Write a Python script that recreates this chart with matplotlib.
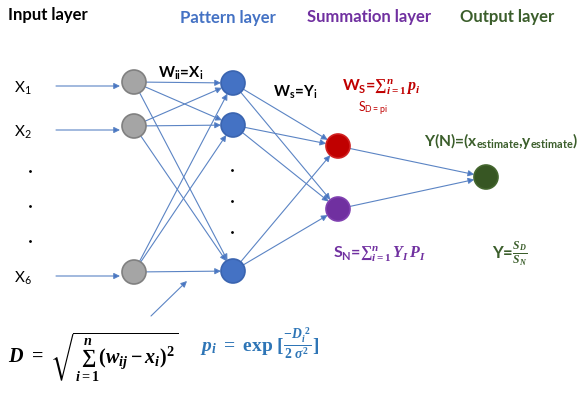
import matplotlib.pyplot as plt
from matplotlib.patches import Circle

plt.rcParams['mathtext.fontset'] = 'custom'
plt.rcParams['mathtext.rm'] = 'Liberation Serif:bold'
plt.rcParams['mathtext.bf'] = 'Liberation Serif:bold'
plt.rcParams['mathtext.it'] = 'Liberation Serif:italic:bold'
plt.rcParams['mathtext.bfit'] = 'Liberation Serif:italic:bold'
plt.rcParams['mathtext.fallback'] = 'stix'

# layer titles and colours
layer_titles = ["Input layer", "Pattern layer", "Summation layer", "Output layer"]
title_colors = ["black", "#4472C4", "#7030A0", "#3B5E2B"]
input_labels = ["X$_\\mathregular{1}$", "X$_\\mathregular{2}$", "X$_\\mathregular{6}$"]

# layout (pixel coords of the 584x405 picture)
title_xy = [(8, 15), (180, 18), (307, 17), (460, 17)]
input_nodes = [(134, 82), (134, 126), (134, 272)]
pattern_nodes = [(233, 83), (233, 125), (233, 271)]
sum_nodes = [(338, 146), (338, 209)]
out_node = (486, 177)
R = 12

LINE = "#5B84C4"
ARROW = "#4472C4"

fig = plt.figure(figsize=(5.84, 4.05), dpi=100)
ax = fig.add_axes([0, 0, 1, 1])
ax.set_xlim(0, 584)
ax.set_ylim(405, 0)
ax.axis("off")


def arrow(a, b, sa=0, sb=R):
    # points -> pixels at dpi 100
    ax.annotate("", xy=b, xytext=a,
                arrowprops=dict(arrowstyle="-|>", color=LINE, lw=0.8,
                                shrinkA=sa * 0.72, shrinkB=sb * 0.72,
                                mutation_scale=9, fc=ARROW, ec=LINE))


# input arrows
for (x, y), lab in zip(input_nodes, input_labels):
    ax.text(14, y + 6, lab, fontsize=11, family="Lato", va="center", ha="left")
    arrow((56, y + 4), (x - R - 2, y + 4), sb=0)

# input -> pattern
for a in input_nodes:
    for b in pattern_nodes:
        arrow(a, b, sa=R)
# pattern -> summation
for a in pattern_nodes:
    for b in sum_nodes:
        arrow(a, b, sa=R)
# summation -> output
for a in sum_nodes:
    arrow(a, out_node, sa=R)

# small arrow from the distance formula
arrow((151, 316), (187, 281), sb=0)

# nodes
node_styles = [("#A5A5A5", "#808080", input_nodes),
               ("#4472C4", "#3A64B0", pattern_nodes),
               ("#C00000", "#D02020", sum_nodes[:1]),
               ("#7030A0", "#8040B0", sum_nodes[1:]),
               ("#375623", "#44662E", [out_node])]
for fc, ec, pts in node_styles:
    for p in pts:
        ax.add_patch(Circle(p, R, fc=fc, ec=ec, lw=1.2, zorder=3))

# ellipsis dots
for y in [171, 206, 241]:
    ax.plot(30, y, "o", ms=1.0, color="black")
for y in [170, 201, 232]:
    ax.plot(232, y, "o", ms=1.0, color="black")

# titles
for t, c, (x, y) in zip(layer_titles, title_colors, title_xy):
    ax.text(x, y, t, color=c, fontsize=12, family="Lato", fontweight="bold",
            va="center", ha="left")

# weight labels
ax.text(158, 73, "W$_\\mathregular{ii}$=X$_\\mathregular{i}$", fontsize=11,
        family="Lato", fontweight="bold", va="center")
ax.text(273, 92, "W$_\\mathregular{s}$=Y$_\\mathregular{i}$", fontsize=11,
        family="Lato", fontweight="bold", va="center")

# summation formulas
RED = "#C00000"
PURPLE = "#7030A0"
GREEN = "#3B5E2B"
ax.text(342, 87, "W$_\\mathregular{S}$=${\\sum}_{i=1}^{n}\\,p_i$", fontsize=11.5,
        family="Lato", fontweight="bold", color=RED, va="center")
ax.text(358, 109, "S$_\\mathregular{D=pi}$", fontsize=9, family="Lato",
        color=RED, va="center")
ax.text(333, 254, "S$_\\mathregular{N}$=${\\sum}_{i=1}^{n}\\,Y_I\\,P_I$", fontsize=11.5,
        family="Lato", fontweight="bold", color=PURPLE, va="center")
ax.text(424, 141, "Y(N)=(x$_\\mathregular{estimate}$,y$_\\mathregular{estimate}$)",
        fontsize=11.2, family="Lato", fontweight="bold", color=GREEN, va="center")
ax.text(492, 254, "Y=$\\frac{S_D}{S_N}$", fontsize=12, family="Lato",
        fontweight="bold", color=GREEN, va="center")

# distance and probability formulas
ax.text(8, 357, r"$D\ =\ \sqrt{\sum_{i=1}^{n}(w_{ij}-x_i)^2}$", fontsize=14.5,
        va="center", ha="left")
ax.text(200, 344, r"$p_i\ =\ \mathrm{exp}\ [\frac{-D_i^{\ 2}}{2\ \sigma^2}]$",
        fontsize=14, color="#2E75B6", va="center", ha="left")

fig.savefig("out.png", dpi=100)
